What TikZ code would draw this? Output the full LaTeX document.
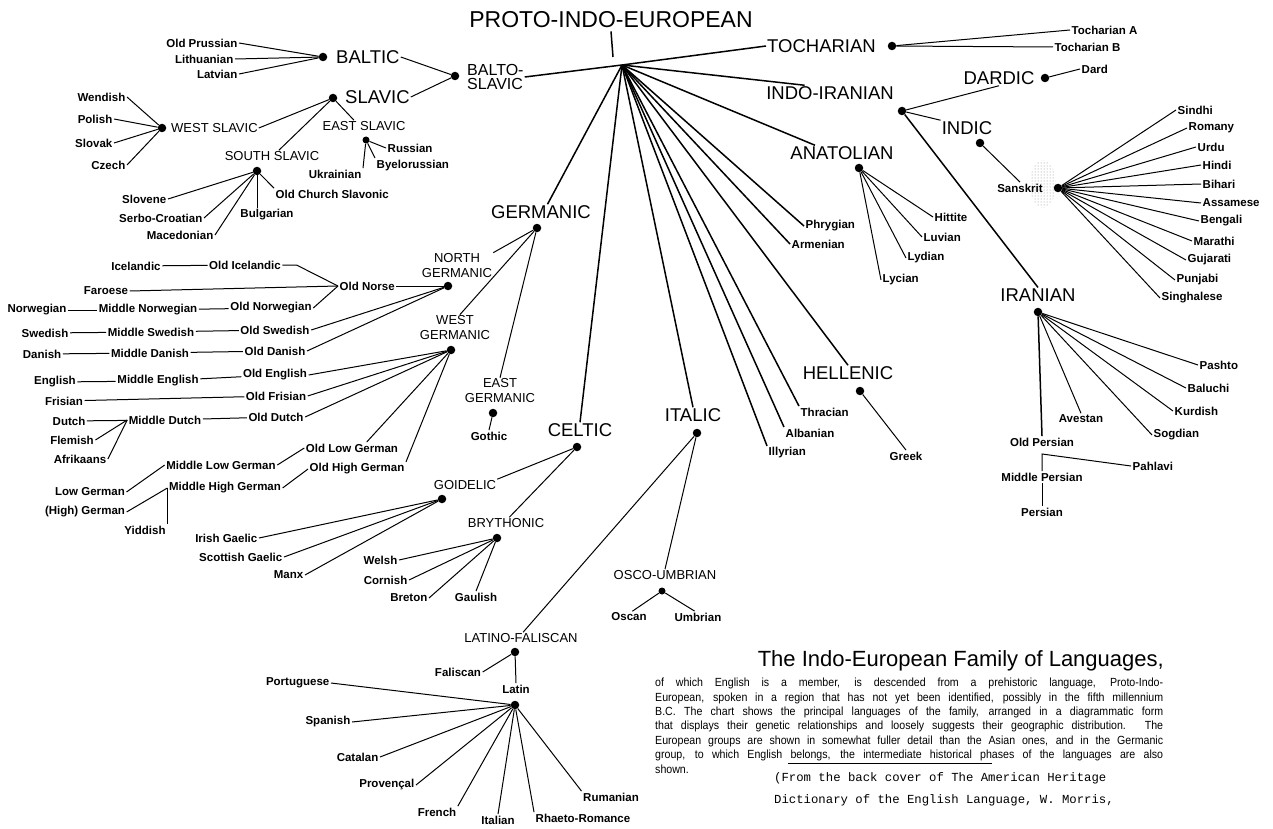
\documentclass[tikz,border=0pt]{standalone}
\usepackage{fontspec}
\setmainfont{Liberation Sans}
\setmonofont{Liberation Mono}
\newfontfamily\blurbfont{Liberation Sans}[FakeStretch=0.9]
\usetikzlibrary{patterns}

\begin{document}
\begin{tikzpicture}[x=1pt, y=-1pt,
    rootlabel/.style={font=\fontsize{23}{23}\selectfont, inner sep=3pt},
    grp/.style={font=\fontsize{18.5}{19}\selectfont, inner sep=1pt},
    subgrp/.style={font=\fontsize{13}{15}\selectfont, inner sep=1pt, align=center},
    lang/.style={font=\bfseries\fontsize{11.5}{12}\selectfont, inner sep=1.5pt},
    knot/.style={circle, fill, inner sep=0pt, minimum size=8.5pt},
    link/.style={line width=1pt},
    trunk/.style={line width=1.5pt}
]
\useasboundingbox (0,0) rectangle (1273,829);

% Racine
\node[rootlabel] (pie) at (611,20) {PROTO-INDO-EUROPEAN};
\coordinate (tick) at (613,57);
\coordinate (hub) at (622,65);
\draw[trunk] (pie.south) -- (tick);

% Balto-slave
\node[subgrp, font=\fontsize{16}{13.5}\selectfont, align=left, anchor=west] (bsl) at (466,77) {BALTO-\\SLAVIC};
\node[knot] (bsld) at (455,76) {};
\node[grp, anchor=west] (balt) at (335,57) {BALTIC};
\node[knot] (baltd) at (323,57) {};
\node[grp, anchor=west] (slav) at (344,97) {SLAVIC};
\node[knot] (slavd) at (333,98) {};
\draw[trunk] (hub) -- (bsl.east);
\draw[link] (balt.east) -- (bsld);
\draw[link] (slav.east) -- (bsld);

\node[lang, anchor=east] (oprus) at (239,43) {Old Prussian};
\node[lang, anchor=east] (lith) at (235,59) {Lithuanian};
\node[lang, anchor=east] (latv) at (239,74) {Latvian};
\draw[link] (oprus.east) -- (baltd);
\draw[link] (lith.east) -- (baltd);
\draw[link] (latv.east) -- (baltd);

\node[subgrp, anchor=west] (wsl) at (170,128) {WEST SLAVIC};
\node[knot] (wsld) at (162,128) {};
\draw[link] (wsl.east) -- (slavd);
\node[lang, anchor=east] (wend) at (127,97) {Wendish};
\node[lang, anchor=east] (poli) at (114,119) {Polish};
\node[lang, anchor=east] (slok) at (114,143) {Slovak};
\node[lang, anchor=east] (czec) at (127,165) {Czech};
\draw[link] (wend.east) -- (wsld);
\draw[link] (poli.east) -- (wsld);
\draw[link] (slok.east) -- (wsld);
\draw[link] (czec.east) -- (wsld);

\node[subgrp] (esl) at (364,126) {EAST SLAVIC};
\node[knot, minimum size=7pt] (esld) at (366,140) {};
\draw[link] (slavd) -- (esl.150);
\node[lang, anchor=west] (russ) at (386,148) {Russian};
\node[lang, anchor=north west] (byel) at (375,158) {Byelorussian};
\node[lang, anchor=east] (ukra) at (363,174) {Ukrainian};
\draw[link] (esld) -- (russ.west);
\draw[link] (esld) -- (byel.north west);
\draw[link] (esld) -- (ukra.north east);

\node[subgrp] (ssl) at (272,156) {SOUTH SLAVIC};
\node[knot] (ssld) at (257,171) {};
\draw[link] (slavd) -- (ssl.40);
\node[lang, anchor=east] (slvn) at (168,199) {Slovene};
\node[lang, anchor=east] (serb) at (204,218) {Serbo-Croatian};
\node[lang, anchor=east] (mace) at (215,235) {Macedonian};
\node[lang] (bulg) at (267,215) {Bulgarian};
\node[lang, anchor=west] (ocsl) at (274,194) {Old Church Slavonic};
\draw[link] (slvn.east) -- (ssld);
\draw[link] (serb.east) -- (ssld);
\draw[link] (mace.east) -- (ssld);
\draw[link] (ssld) -- (ssld |- bulg.north);
\draw[link] (ssld) -- (ocsl.north west);

% Germanique
\node[grp] (germ) at (541,212) {GERMANIC};
\node[knot] (germd) at (537,228) {};
\draw[trunk] (hub) -- (germ.50);

\node[subgrp] (ngm) at (457,266) {NORTH\\GERMANIC};
\node[knot] (ngmd) at (448,286) {};
\draw[link] (germd) -- (ngm.north east);
\node[subgrp] (wgm) at (455,328) {WEST\\GERMANIC};
\node[knot] (wgmd) at (451,350) {};
\draw[link] (germd) -- (wgm.70);
\node[subgrp] (egm) at (500,391) {EAST\\GERMANIC};
\node[knot] (egmd) at (493,413) {};
\draw[link] (germd) -- (egm.north);
\node[lang] (goth) at (489,436) {Gothic};
\draw[link] (egmd) -- (goth.north);

\node[lang, anchor=west] (onor) at (338,286) {Old Norse};
\draw[link] (onor.east) -- (ngmd);
\node[lang] (ice) at (136,266) {Icelandic};
\node[lang] (oice) at (245,265) {Old Icelandic};
\draw[link] (ice) -- (oice);
\draw[link] (oice.east) -- ++(14,0) -- (onor.west);
\node[lang] (faro) at (106,291) {Faroese};
\draw[link] (faro.east) -- (onor.west);
\node[lang] (norw) at (37,310) {Norwegian};
\node[lang] (mnor) at (148,310) {Middle Norwegian};
\node[lang] (onrw) at (271,308) {Old Norwegian};
\draw[link] (norw) -- (mnor);
\draw[link] (mnor) -- (onrw);
\draw[link] (onrw.east) -- (onor.west);
\node[lang] (swed) at (45,333) {Swedish};
\node[lang] (mswe) at (151,332) {Middle Swedish};
\node[lang] (oswe) at (275,330) {Old Swedish};
\draw[link] (swed) -- (mswe);
\draw[link] (mswe) -- (oswe);
\draw[link] (oswe.east) -- (ngmd);
\node[lang] (dani) at (42,354) {Danish};
\node[lang] (mdan) at (150,353) {Middle Danish};
\node[lang] (odan) at (275,351) {Old Danish};
\draw[link] (dani) -- (mdan);
\draw[link] (mdan) -- (odan);
\draw[link] (odan.east) -- (ngmd);

\node[lang] (engl) at (55,382) {English};
\node[lang] (meng) at (158,381) {Middle English};
\node[lang] (oeng) at (275,375) {Old English};
\draw[link] (engl) -- (meng);
\draw[link] (meng) -- (oeng);
\draw[link] (oeng.east) -- (wgmd);
\node[lang] (fris) at (64,401) {Frisian};
\node[lang] (ofri) at (276,396) {Old Frisian};
\draw[link] (fris) -- (ofri);
\draw[link] (ofri.east) -- (wgmd);
\node[lang] (dutc) at (69,421) {Dutch};
\node[lang] (mdut) at (165,420) {Middle Dutch};
\node[lang] (odut) at (276,417) {Old Dutch};
\node[lang] (flem) at (72,440) {Flemish};
\node[lang] (afri) at (80,459) {Afrikaans};
\draw[link] (dutc) -- (mdut);
\draw[link] (flem.east) -- (mdut.west);
\draw[link] (afri.east) -- (mdut.west);
\draw[link] (mdut) -- (odut);
\draw[link] (odut.east) -- (wgmd);
\node[lang] (olge) at (352,448) {Old Low German};
\node[lang] (ohge) at (357,469) {Old High German};
\draw[link] (wgmd) -- (olge.22);
\draw[link] (wgmd) -- (ohge.north east);
\node[lang] (mlge) at (221,465) {Middle Low German};
\node[lang] (mhge) at (225,488) {Middle High German};
\draw[link] (mlge.east) -- (olge.west);
\draw[link] (mhge.east) -- (ohge.west);
\node[lang] (lowg) at (90,492) {Low German};
\node[lang] (higg) at (85,512) {(High) German};
\node[lang] (yidd) at (145,530) {Yiddish};
\draw[link] (lowg.east) -- (mlge.west);
\draw[link] (higg.east) -- (mhge.west);
\draw[link] (mhge.west) -- (mhge.west |- yidd.north);

% Celtique
\node[grp] (celt) at (580,430) {CELTIC};
\node[knot] (celtd) at (577,447) {};
\draw[trunk] (hub) -- (celt.north);
\node[subgrp] (goid) at (465,485) {GOIDELIC};
\node[knot] (goidd) at (442,499) {};
\draw[link] (celtd) -- (goid.north east);
\node[lang, anchor=east] (iris) at (259,538) {Irish Gaelic};
\node[lang, anchor=east] (scot) at (284,557) {Scottish Gaelic};
\node[lang, anchor=east] (manx) at (305,575) {Manx};
\draw[link] (iris.east) -- (goidd);
\draw[link] (scot.east) -- (goidd);
\draw[link] (manx.east) -- (goidd);
\node[subgrp] (bryt) at (506,523) {BRYTHONIC};
\node[knot] (brytd) at (497,538) {};
\draw[link] (celtd) -- (bryt.60);
\node[lang, anchor=east] (wels) at (399,560) {Welsh};
\node[lang, anchor=east] (corn) at (409,580) {Cornish};
\node[lang, anchor=east] (bret) at (429,598) {Breton};
\node[lang] (gaul) at (476,597) {Gaulish};
\draw[link] (wels.east) -- (brytd);
\draw[link] (corn.east) -- (brytd);
\draw[link] (bret.east) -- (brytd);
\draw[link] (brytd) -- (gaul.north);

% Italique
\node[grp] (ital) at (693,415) {ITALIC};
\node[knot] (itald) at (697,433) {};
\draw[trunk] (hub) -- (ital.north);
\node[subgrp] (osum) at (665,575) {OSCO-UMBRIAN};
\node[knot, minimum size=7pt] (osumd) at (662,591) {};
\draw[link] (itald) -- (osum.north);
\node[lang] (osca) at (629,617) {Oscan};
\node[lang] (umbr) at (698,617) {Umbrian};
\draw[link] (osumd) -- (osca.60);
\draw[link] (osumd) -- (umbr.120);
\node[subgrp] (lfal) at (521,638) {LATINO-FALISCAN};
\node[knot] (lfald) at (515,652) {};
\draw[link] (itald) -- (lfal.70);
\node[lang] (fali) at (458,672) {Faliscan};
\node[lang] (lati) at (516,689) {Latin};
\node[knot] (latid) at (515,705) {};
\draw[link] (fali.east) -- (lfald);
\draw[link] (lfald) -- (lati.north);
\node[lang, anchor=east] (port) at (331,683) {Portuguese};
\node[lang, anchor=east] (span) at (352,722) {Spanish};
\node[lang, anchor=east] (cata) at (380,757) {Catalan};
\node[lang, anchor=east] (prov) at (416,785) {Provençal};
\node[lang] (fren) at (437,812) {French};
\node[lang] (itln) at (498,820) {Italian};
\node[lang] (rhae) at (583,818) {Rhaeto-Romance};
\node[lang] (ruma) at (611,797) {Rumanian};
\draw[link] (port.east) -- (latid);
\draw[link] (span.east) -- (latid);
\draw[link] (cata.east) -- (latid);
\draw[link] (prov.east) -- (latid);
\draw[link] (latid) -- (fren.north east);
\draw[link] (latid) -- (itln.north);
\draw[link] (latid) -- (rhae.north west);
\draw[link] (latid) -- (ruma.north west);

% Langues isolees
\node[lang, anchor=west] (phry) at (804,226) {Phrygian};
\node[lang, anchor=west] (arme) at (790,244) {Armenian};
\node[lang, anchor=west] (thra) at (799,412) {Thracian};
\node[lang, anchor=west] (alba) at (784,433) {Albanian};
\node[lang, anchor=west] (illy) at (767,453) {Illyrian};
\draw[trunk] (hub) -- (phry.west);
\draw[trunk] (hub) -- (arme.west);
\draw[trunk] (hub) -- (thra.north west);
\draw[trunk] (hub) -- (alba.north west);
\draw[trunk] (hub) -- (illy.north west);

\node[grp] (hell) at (848,373) {HELLENIC};
\node[knot] (helld) at (860,391) {};
\draw[trunk] (hub) -- (hell.north);
\node[lang] (gree) at (906,456) {Greek};
\draw[link] (helld) -- (gree.north);

% Anatolien
\node[grp] (anat) at (842,153) {ANATOLIAN};
\node[knot] (anatd) at (859,168) {};
\draw[trunk] (hub) -- (anat.164);
\node[lang, anchor=west] (hitt) at (933,217) {Hittite};
\node[lang, anchor=west] (luvi) at (922,237) {Luvian};
\node[lang, anchor=west] (lydi) at (906,258) {Lydian};
\node[lang, anchor=west] (lyci) at (881,280) {Lycian};
\draw[link] (anatd) -- (hitt.west);
\draw[link] (anatd) -- (luvi.west);
\draw[link] (anatd) -- (lydi.west);
\draw[link] (anatd) -- (lyci.west);

% Tokharien
\node[grp, anchor=west] (toch) at (766,46) {TOCHARIAN};
\node[knot] (tochd) at (892,46) {};
\draw[trunk] (hub) -- (toch.west);
\node[lang, anchor=west] (toca) at (1070,30) {Tocharian A};
\node[lang, anchor=west] (tocb) at (1053,47) {Tocharian B};
\draw[link] (tochd) -- (toca.west);
\draw[link] (tochd) -- (tocb.west);

% Indo-iranien
\node[grp] (iira) at (830,93) {INDO-IRANIAN};
\node[knot] (iirad) at (902,111) {};
\draw[trunk] (hub) -- (iira.163);
\node[grp] (dard) at (999,78) {DARDIC};
\node[knot] (dardd) at (1045,78) {};
\node[lang, anchor=west] (dardl) at (1080,69) {Dard};
\draw[link] (iirad) -- (dard.south);
\draw[link] (dardd) -- (dardl.west);

\node[grp] (indi) at (967,128) {INDIC};
\node[knot] (indid) at (980,143) {};
\draw[link] (iirad) -- (indi.north west);
\fill[pattern=dots, pattern color=black!45] (1043,184) ellipse [x radius=13pt, y radius=24pt];
\node[lang] (sans) at (1020,188) {Sanskrit};
\node[knot] (sansd) at (1058,188) {};
\draw[link] (indid) -- (sans.north);
\node[lang, anchor=west] (sind) at (1176,110) {Sindhi};
\node[lang, anchor=west] (roma) at (1187,128) {Romany};
\node[lang, anchor=west] (urdu) at (1196,147) {Urdu};
\node[lang, anchor=west] (hind) at (1201,165) {Hindi};
\node[lang, anchor=west] (biha) at (1201,184) {Bihari};
\node[lang, anchor=west] (assa) at (1201,203) {Assamese};
\node[lang, anchor=west] (beng) at (1199,221) {Bengali};
\node[lang, anchor=west] (mara) at (1192,241) {Marathi};
\node[lang, anchor=west] (guja) at (1186,260) {Gujarati};
\node[lang, anchor=west] (punj) at (1175,280) {Punjabi};
\node[lang, anchor=west] (sing) at (1160,298) {Singhalese};
\draw[link] (sansd) -- (sind.west);
\draw[link] (sansd) -- (roma.west);
\draw[link] (sansd) -- (urdu.west);
\draw[link] (sansd) -- (hind.west);
\draw[link] (sansd) -- (biha.west);
\draw[link] (sansd) -- (assa.west);
\draw[link] (sansd) -- (beng.west);
\draw[link] (sansd) -- (mara.west);
\draw[link] (sansd) -- (guja.west);
\draw[link] (sansd) -- (punj.west);
\draw[link] (sansd) -- (sing.west);

\node[grp] (iran) at (1038,295) {IRANIAN};
\node[knot] (irand) at (1038,312) {};
\draw[trunk] (iirad) -- (iran.north);
\node[lang, anchor=west] (pash) at (1198,365) {Pashto};
\node[lang, anchor=west] (balu) at (1186,388) {Baluchi};
\node[lang, anchor=west] (kurd) at (1173,411) {Kurdish};
\node[lang, anchor=west] (sogd) at (1152,435) {Sogdian};
\node[lang] (aves) at (1081,419) {Avestan};
\node[lang] (oper) at (1042,442) {Old Persian};
\draw[link] (irand) -- (pash.west);
\draw[link] (irand) -- (balu.west);
\draw[link] (irand) -- (kurd.west);
\draw[link] (irand) -- (sogd.west);
\draw[link] (irand) -- (aves.north);
\draw[trunk] (irand) -- (oper.north);
\coordinate (brk) at (1042,454);
\node[lang] (mper) at (1042,477) {Middle Persian};
\node[lang, anchor=west] (pahl) at (1131,466) {Pahlavi};
\node[lang] (pers) at (1042,512) {Persian};
\draw[link] (mper.north) -- (brk) -- (pahl.west);
\draw[link] (mper.south) -- (pers.north);

% Texte
\node[anchor=east, font=\fontsize{22}{22}\selectfont, inner sep=0pt] (title) at (1164,661) {The Indo-European Family of Languages,};
\node[anchor=north west, text width=508pt, align=justify, inner sep=0pt, font=\blurbfont\fontsize{11.8}{14.4}\selectfont] (blurb) at (655,678) {\hyphenpenalty=10000\noindent
of which English is a member, is descended from a prehistoric language, Proto-Indo-\linebreak
European, spoken in a region that has not yet been identified, possibly in the fifth millennium\linebreak
B.C. The chart shows the principal languages of the family, arranged in a diagrammatic form\linebreak
that displays their genetic relationships and loosely suggests their geographic distribution. The\linebreak
European groups are shown in somewhat fuller detail than the Asian ones, and in the Germanic\linebreak
group, to which English belongs, the intermediate historical phases of the languages are also\linebreak
shown.};
\draw[line width=0.7pt] (788,763) -- (992,763);
\node[anchor=north west, align=left, inner sep=0pt, font=\ttfamily\fontsize{12.3}{22}\selectfont] (source) at (774,772) {(From the back cover of The American Heritage\\Dictionary of the English Language, W. Morris,};

\end{tikzpicture}
\end{document}
